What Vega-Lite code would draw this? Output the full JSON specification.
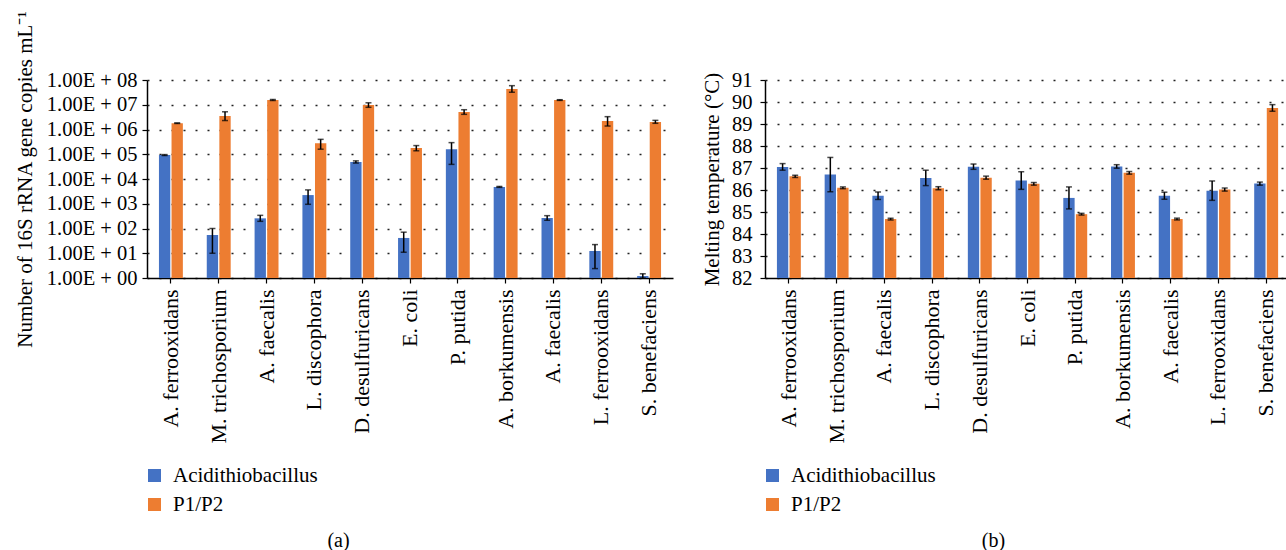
{
  "$schema": "https://vega.github.io/schema/vega-lite/v6.json",
  "background": "white",
  "padding": {"left": 14, "top": 10, "right": 0, "bottom": 0},
  "spacing": 28,
  "datasets": {
    "copies": [
      {"cat": "A. ferrooxidans", "series": "Acidithiobacillus", "value": 93000, "lo": 89000, "hi": 97000},
      {"cat": "A. ferrooxidans", "series": "P1/P2", "value": 1800000, "lo": 1750000, "hi": 1850000},
      {"cat": "M. trichosporium", "series": "Acidithiobacillus", "value": 55, "lo": 10, "hi": 100},
      {"cat": "M. trichosporium", "series": "P1/P2", "value": 3500000, "lo": 2300000, "hi": 5200000},
      {"cat": "A. faecalis#1", "series": "Acidithiobacillus", "value": 257, "lo": 195, "hi": 340},
      {"cat": "A. faecalis#1", "series": "P1/P2", "value": 15500000, "lo": 14800000, "hi": 16200000},
      {"cat": "L. discophora", "series": "Acidithiobacillus", "value": 2240, "lo": 950, "hi": 3630},
      {"cat": "L. discophora", "series": "P1/P2", "value": 280000, "lo": 160000, "hi": 400000},
      {"cat": "D. desulfuricans", "series": "Acidithiobacillus", "value": 49000, "lo": 44000, "hi": 54000},
      {"cat": "D. desulfuricans", "series": "P1/P2", "value": 9800000, "lo": 7900000, "hi": 12000000},
      {"cat": "E. coli", "series": "Acidithiobacillus", "value": 41.5, "lo": 11, "hi": 71},
      {"cat": "E. coli", "series": "P1/P2", "value": 180000, "lo": 138000, "hi": 224000},
      {"cat": "P. putida", "series": "Acidithiobacillus", "value": 160000, "lo": 39000, "hi": 295000},
      {"cat": "P. putida", "series": "P1/P2", "value": 5100000, "lo": 4100000, "hi": 6300000},
      {"cat": "A. borkumensis", "series": "Acidithiobacillus", "value": 4800, "lo": 4600, "hi": 5000},
      {"cat": "A. borkumensis", "series": "P1/P2", "value": 43000000, "lo": 32000000, "hi": 59000000},
      {"cat": "A. faecalis#2", "series": "Acidithiobacillus", "value": 265, "lo": 215, "hi": 330},
      {"cat": "A. faecalis#2", "series": "P1/P2", "value": 15500000, "lo": 15000000, "hi": 16000000},
      {"cat": "L. ferrooxidans", "series": "Acidithiobacillus", "value": 12.3, "lo": 2.4, "hi": 22.4},
      {"cat": "L. ferrooxidans", "series": "P1/P2", "value": 2200000, "lo": 1380000, "hi": 3300000},
      {"cat": "S. benefaciens", "series": "Acidithiobacillus", "value": 1.2, "lo": 1.0, "hi": 1.48},
      {"cat": "S. benefaciens", "series": "P1/P2", "value": 2000000, "lo": 1780000, "hi": 2340000}
    ],
    "tm": [
      {"cat": "A. ferrooxidans", "series": "Acidithiobacillus", "value": 87.05, "lo": 86.9, "hi": 87.2},
      {"cat": "A. ferrooxidans", "series": "P1/P2", "value": 86.62, "lo": 86.57, "hi": 86.67},
      {"cat": "M. trichosporium", "series": "Acidithiobacillus", "value": 86.7, "lo": 85.92, "hi": 87.48},
      {"cat": "M. trichosporium", "series": "P1/P2", "value": 86.1, "lo": 86.06, "hi": 86.14},
      {"cat": "A. faecalis#1", "series": "Acidithiobacillus", "value": 85.74, "lo": 85.57, "hi": 85.91},
      {"cat": "A. faecalis#1", "series": "P1/P2", "value": 84.68, "lo": 84.64, "hi": 84.72},
      {"cat": "L. discophora", "series": "Acidithiobacillus", "value": 86.55, "lo": 86.2, "hi": 86.9},
      {"cat": "L. discophora", "series": "P1/P2", "value": 86.08, "lo": 86.01, "hi": 86.15},
      {"cat": "D. desulfuricans", "series": "Acidithiobacillus", "value": 87.06, "lo": 86.94, "hi": 87.18},
      {"cat": "D. desulfuricans", "series": "P1/P2", "value": 86.56, "lo": 86.49, "hi": 86.63},
      {"cat": "E. coli", "series": "Acidithiobacillus", "value": 86.43, "lo": 86.03, "hi": 86.83},
      {"cat": "E. coli", "series": "P1/P2", "value": 86.28, "lo": 86.22, "hi": 86.34},
      {"cat": "P. putida", "series": "Acidithiobacillus", "value": 85.64, "lo": 85.14, "hi": 86.14},
      {"cat": "P. putida", "series": "P1/P2", "value": 84.9, "lo": 84.86, "hi": 84.94},
      {"cat": "A. borkumensis", "series": "Acidithiobacillus", "value": 87.07, "lo": 86.99, "hi": 87.15},
      {"cat": "A. borkumensis", "series": "P1/P2", "value": 86.78, "lo": 86.72, "hi": 86.84},
      {"cat": "A. faecalis#2", "series": "Acidithiobacillus", "value": 85.74, "lo": 85.58, "hi": 85.9},
      {"cat": "A. faecalis#2", "series": "P1/P2", "value": 84.68, "lo": 84.64, "hi": 84.72},
      {"cat": "L. ferrooxidans", "series": "Acidithiobacillus", "value": 85.97, "lo": 85.53, "hi": 86.41},
      {"cat": "L. ferrooxidans", "series": "P1/P2", "value": 86.02, "lo": 85.95, "hi": 86.09},
      {"cat": "S. benefaciens", "series": "Acidithiobacillus", "value": 86.29, "lo": 86.22, "hi": 86.36},
      {"cat": "S. benefaciens", "series": "P1/P2", "value": 89.73, "lo": 89.58, "hi": 89.88}
    ]
  },
  "resolve": {"scale": {"color": "independent"}, "legend": {"color": "independent"}},
  "hconcat": [
    {
      "width": 526,
      "height": 198,
      "data": {"name": "copies"},
      "encoding": {
        "x": {
          "field": "cat", "type": "nominal", "sort": null,
          "scale": {"paddingInner": 0.5, "paddingOuter": 0.25},
          "axis": {"labelExpr": "split(datum.label, '#')[0]", "labelAngle": 270, "title": "(a)", "titleX": 191, "titleY": 268, "titleBaseline": "alphabetic", "titleAlign": "center", "titleFontSize": 20}
        },
        "xOffset": {"field": "series", "type": "nominal", "scale": {"paddingInner": 0.1}}
      },
      "layer": [
        {
          "mark": {"type": "bar"},
          "encoding": {
            "y": {
              "field": "value", "type": "quantitative",
              "title": "Number of 16S rRNA gene copies mL⁻¹",
              "scale": {"type": "log", "domain": [1, 100000000], "clamp": true},
              "axis": {"values": [1, 10, 100, 1000, 10000, 100000, 1000000, 10000000, 100000000], "labelExpr": "'1.00E + ' + format(round(log(datum.value)/LN10), '02d')", "labelFontSize": 20.5, "labelOverlap": false, "titlePadding": 11}
            },
            "y2": {"datum": 1},
            "color": {
              "field": "series", "type": "nominal",
              "scale": {"domain": ["Acidithiobacillus", "P1/P2"], "range": ["#4472C4", "#ED7D31"]},
              "legend": {"orient": "none", "legendX": -3, "legendY": 385, "title": null}
            }
          }
        },
        {
          "mark": {"type": "rule", "color": "black", "strokeWidth": 1.5},
          "encoding": {
            "y": {"field": "lo", "type": "quantitative", "title": "Number of 16S rRNA gene copies mL⁻¹",
              "axis": {"values": [1, 10, 100, 1000, 10000, 100000, 1000000, 10000000, 100000000], "labelExpr": "'1.00E + ' + format(round(log(datum.value)/LN10), '02d')", "labelFontSize": 20.5, "labelOverlap": false, "titlePadding": 11}},
            "y2": {"field": "hi"}
          }
        },
        {
          "mark": {"type": "tick", "color": "black", "thickness": 1.5, "size": 6},
          "encoding": {"y": {"field": "lo", "type": "quantitative", "title": "Number of 16S rRNA gene copies mL⁻¹",
            "axis": {"values": [1, 10, 100, 1000, 10000, 100000, 1000000, 10000000, 100000000], "labelExpr": "'1.00E + ' + format(round(log(datum.value)/LN10), '02d')", "labelFontSize": 20.5, "labelOverlap": false, "titlePadding": 11}}}
        },
        {
          "mark": {"type": "tick", "color": "black", "thickness": 1.5, "size": 6},
          "encoding": {"y": {"field": "hi", "type": "quantitative", "title": "Number of 16S rRNA gene copies mL⁻¹",
            "axis": {"values": [1, 10, 100, 1000, 10000, 100000, 1000000, 10000000, 100000000], "labelExpr": "'1.00E + ' + format(round(log(datum.value)/LN10), '02d')", "labelFontSize": 20.5, "labelOverlap": false, "titlePadding": 11}}}
        }
      ]
    },
    {
      "width": 525,
      "height": 198,
      "data": {"name": "tm"},
      "encoding": {
        "x": {
          "field": "cat", "type": "nominal", "sort": null,
          "scale": {"paddingInner": 0.5, "paddingOuter": 0.25},
          "axis": {"labelExpr": "split(datum.label, '#')[0]", "labelAngle": 270, "title": "(b)", "titleX": 228, "titleY": 268, "titleBaseline": "alphabetic", "titleAlign": "center", "titleFontSize": 20}
        },
        "xOffset": {"field": "series", "type": "nominal", "scale": {"paddingInner": 0.1}}
      },
      "layer": [
        {
          "mark": {"type": "bar"},
          "encoding": {
            "y": {
              "field": "value", "type": "quantitative",
              "title": "Melting temperature (°C)",
              "scale": {"domain": [82, 91], "zero": false, "nice": false},
              "axis": {"values": [82, 83, 84, 85, 86, 87, 88, 89, 90, 91], "labelFontSize": 20.5, "labelPadding": 8, "labelOverlap": false, "titlePadding": 9}
            },
            "y2": {"datum": 82},
            "color": {
              "field": "series", "type": "nominal",
              "scale": {"domain": ["Acidithiobacillus", "P1/P2"], "range": ["#4472C4", "#ED7D31"]},
              "legend": {"orient": "none", "legendX": -3, "legendY": 385, "title": null}
            }
          }
        },
        {
          "mark": {"type": "rule", "color": "black", "strokeWidth": 1.5},
          "encoding": {
            "y": {"field": "lo", "type": "quantitative", "title": "Melting temperature (°C)",
              "axis": {"values": [82, 83, 84, 85, 86, 87, 88, 89, 90, 91], "labelFontSize": 20.5, "labelPadding": 8, "labelOverlap": false, "titlePadding": 9}},
            "y2": {"field": "hi"}
          }
        },
        {
          "mark": {"type": "tick", "color": "black", "thickness": 1.5, "size": 6},
          "encoding": {"y": {"field": "lo", "type": "quantitative", "title": "Melting temperature (°C)",
            "axis": {"values": [82, 83, 84, 85, 86, 87, 88, 89, 90, 91], "labelFontSize": 20.5, "labelPadding": 8, "labelOverlap": false, "titlePadding": 9}}}
        },
        {
          "mark": {"type": "tick", "color": "black", "thickness": 1.5, "size": 6},
          "encoding": {"y": {"field": "hi", "type": "quantitative", "title": "Melting temperature (°C)",
            "axis": {"values": [82, 83, 84, 85, 86, 87, 88, 89, 90, 91], "labelFontSize": 20.5, "labelPadding": 8, "labelOverlap": false, "titlePadding": 9}}}
        }
      ]
    }
  ],
  "config": {
    "view": {"stroke": null},
    "font": "Liberation Serif",
    "axis": {
      "labelFont": "Liberation Serif", "titleFont": "Liberation Serif",
      "labelColor": "black", "titleColor": "black",
      "labelFontSize": 22, "titleFontSize": 21, "titleFontWeight": "normal",
      "domainColor": "black", "domainWidth": 1.5,
      "tickColor": "black", "tickSize": 5, "tickWidth": 1.2
    },
    "axisY": {"grid": true, "gridDash": [2, 10], "gridColor": "#222", "gridWidth": 1.6, "labelPadding": 5, "titlePadding": 8},
    "axisX": {"grid": false, "labelPadding": 6},
    "legend": {
      "labelFont": "Liberation Serif", "labelFontSize": 21, "labelColor": "black",
      "symbolType": "square", "symbolSize": 169, "symbolStrokeWidth": 0,
      "labelOffset": 8, "rowPadding": 7
    }
  }
}
